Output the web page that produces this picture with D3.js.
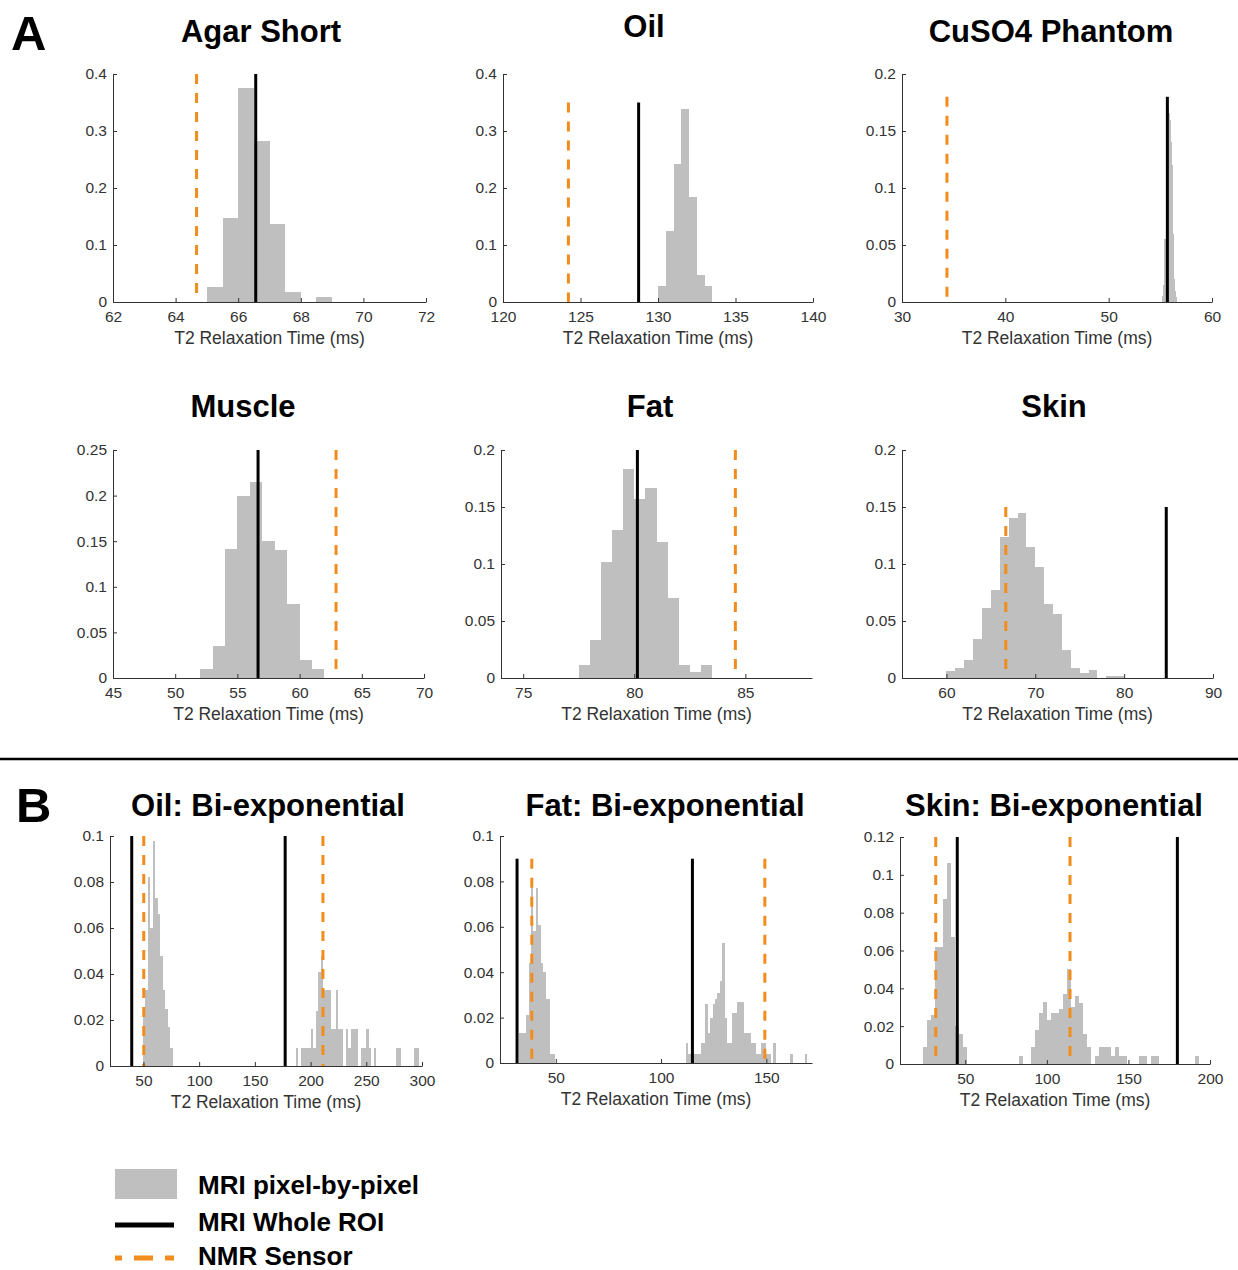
<!DOCTYPE html>
<html>
<head>
<meta charset="utf-8">
<script src="https://cdn.jsdelivr.net/npm/d3@7"></script>
<style>
  body { margin: 0; background: #fff; }
  svg { font-family: "Liberation Sans", Arial, Helvetica, sans-serif; }
  .axis text { font-size: 15.5px; font-family: "Liberation Sans", Arial, sans-serif; fill: #333; }
  .axis path, .axis line { stroke: #333; }
  .axisTitle { font-size: 17.5px; fill: #333; }
  .panelTitle { font-size: 31px; font-weight: bold; fill: #000; }
</style>
</head>
<body>
<div id="chart"></div>
<script>
// panel titles
var titles = ["Agar Short", "Oil", "CuSO4 Phantom", "Muscle", "Fat", "Skin",
  "Oil: Bi-exponential", "Fat: Bi-exponential", "Skin: Bi-exponential"];

// axis ranges and ticks
var xDomains = [[62, 72], [120, 140], [30, 60], [45, 70], [74, 88], [55, 90], [20, 300], [23.5, 171.7], [10, 200]];
var xTicks = [[62, 64, 66, 68, 70, 72], [120, 125, 130, 135, 140], [30, 40, 50, 60], [45, 50, 55, 60, 65, 70],
  [75, 80, 85], [60, 70, 80, 90], [50, 100, 150, 200, 250, 300], [50, 100, 150], [50, 100, 150, 200]];
var yMaxes = [0.4, 0.4, 0.2, 0.25, 0.2, 0.2, 0.1, 0.1, 0.12];
var yTicks = [[0, 0.1, 0.2, 0.3, 0.4], [0, 0.1, 0.2, 0.3, 0.4], [0, 0.05, 0.1, 0.15, 0.2],
  [0, 0.05, 0.1, 0.15, 0.2, 0.25], [0, 0.05, 0.1, 0.15, 0.2], [0, 0.05, 0.1, 0.15, 0.2],
  [0, 0.02, 0.04, 0.06, 0.08, 0.1], [0, 0.02, 0.04, 0.06, 0.08, 0.1], [0, 0.02, 0.04, 0.06, 0.08, 0.1, 0.12]];

// MRI pixel-by-pixel histograms (fraction of pixels per bin)
var histAgar = [0.027, 0.147, 0.375, 0.283, 0.137, 0.018, 0, 0.008];
var histOil = [0.028, 0.125, 0.242, 0.339, 0.184, 0.047, 0.028];
var histCuSO4 = [0.005, 0.015, 0.055, 0.1, 0.15, 0.17, 0.166, 0.16, 0.14, 0.12, 0.06, 0.02, 0.01, 0.004];
var histMuscle = [0.01, 0.035, 0.141, 0.2, 0.215, 0.15, 0.14, 0.081, 0.02, 0.01];
var histFat = [0.011, 0.033, 0.102, 0.13, 0.183, 0.157, 0.167, 0.119, 0.07, 0.011, 0.005, 0.011];
var histSkin = [0.0064, 0.0085, 0.016, 0.034, 0.061, 0.077, 0.124, 0.14, 0.145, 0.115, 0.097, 0.065,
  0.056, 0.0245, 0.0087, 0.0044, 0.007, 0, 0.0017, 0.0017];
var histOilBiShort = [0.024, 0.033, 0.082, 0.06, 0.098, 0.073, 0.066, 0.048, 0.033, 0.025, 0.017, 0.008];
var histOilBiLong = [0.008, 0, 0.008, 0.008, 0.008, 0.008, 0.016, 0.008, 0.024, 0.041, 0.048, 0.033,
  0.033, 0.033, 0.016, 0.016, 0.033, 0.016, 0.016, 0, 0.016, 0.008, 0.016, 0.016, 0.016, 0, 0.008,
  0.008, 0.016, 0.008, 0, 0.008, 0, 0, 0, 0, 0, 0, 0, 0, 0.008, 0.008, 0, 0, 0, 0, 0, 0.008, 0.008];
var histFatBiShort = [0.013, 0.013, 0.013, 0.021, 0.044, 0.08, 0.058, 0.077, 0.061, 0.044, 0.04, 0.028, 0.028, 0.004, 0.004];
var histFatBiLong = [0.009, 0.004, 0.004, 0.004, 0.004, 0.004, 0.009, 0.009, 0.026, 0.013, 0.02, 0.026,
  0.028, 0.031, 0.036, 0.053, 0.02, 0.009, 0.009, 0.022, 0.022, 0.027, 0.027, 0.027, 0.013, 0.013, 0.013,
  0.009, 0.009, 0.004, 0.004, 0.009, 0.009, 0.004, 0.004, 0, 0.009, 0, 0, 0, 0, 0, 0, 0.004, 0, 0, 0, 0, 0, 0.004];
var histSkinBiShort = [0.009, 0.023, 0.026, 0.062, 0.062, 0.087, 0.106, 0.067, 0.02, 0.016, 0.009];
var histSkinBiLong = [0.004, 0, 0, 0.009, 0.018, 0.027, 0.033, 0.023, 0.027, 0.027, 0.029, 0.037, 0.05,
  0.03, 0.036, 0.032, 0.016, 0.009, 0, 0.004, 0.009, 0.009, 0.009, 0.004, 0.009, 0.004, 0.004, 0, 0, 0,
  0.004, 0.004, 0, 0.004, 0.004, 0, 0, 0, 0, 0, 0, 0, 0, 0, 0.004];

var histograms = [[histAgar], [histOil], [histCuSO4], [histMuscle], [histFat], [histSkin],
  [histOilBiShort, histOilBiLong], [histFatBiShort, histFatBiLong], [histSkinBiShort, histSkinBiLong]];
var binStarts = [[65], [130], [55.2], [52], [77.5], [60], [49.5, 186.75], [32.5, 111.85], [24.1, 83.1]];
var binWidths = [0.5, 0.5, 0.1, 1, 0.5, 1, 2.25, 1.15, 2.45];

// MRI whole ROI T2 (ms) and NMR sensor T2 (ms), with line heights
var roiT2 = [[66.56], [128.75], [55.68], [56.66], [80.14], [84.74], [39.5, 177.2], [31.6, 114.9], [45.1, 180]];
var roiTop = [0.4, 0.35, 0.18, 0.25, 0.2, 0.15, 0.1, 0.09, 0.12];
var nmrT2 = [[64.67], [124.22], [34.35], [62.93], [84.55], [66.68], [50.3, 211.1], [38.6, 149.3], [31.9, 114.2]];
var nmrTop = [0.4, 0.35, 0.18, 0.25, 0.2, 0.15, 0.1, 0.09, 0.12];

var legendLabels = ["MRI pixel-by-pixel", "MRI Whole ROI", "NMR Sensor"];

// layout of each plot area
var boxes = [
  {x: 113, y: 74, w: 313, h: 228, tx: 261, ty: 42},
  {x: 503, y: 74, w: 310, h: 228, tx: 644, ty: 37},
  {x: 902, y: 74, w: 310, h: 228, tx: 1051, ty: 42},
  {x: 113, y: 450, w: 311, h: 228, tx: 243, ty: 417},
  {x: 501, y: 450, w: 311, h: 228, tx: 650, ty: 417},
  {x: 902, y: 450, w: 311, h: 228, tx: 1054, ty: 417},
  {x: 110, y: 836, w: 312, h: 230, tx: 268, ty: 816},
  {x: 500, y: 836, w: 312, h: 227, tx: 665, ty: 816},
  {x: 900, y: 837, w: 310, h: 227, tx: 1054, ty: 816}
];

var grey = "#bfbfbf";
var orange = "#f28c1c";

var svg = d3.select("#chart").append("svg")
  .attr("width", 1238)
  .attr("height", 1270);

function drawPanel(i) {
  var b = boxes[i];
  var x = d3.scaleLinear().domain(xDomains[i]).range([b.x, b.x + b.w]);
  var y = d3.scaleLinear().domain([0, yMaxes[i]]).range([b.y + b.h, b.y]);
  var g = svg.append("g");

  // histogram bars
  var bars = [];
  histograms[i].forEach(function(hs, k) {
    hs.forEach(function(v, j) {
      var x0 = binStarts[i][k] + j * binWidths[i];
      if (v > 0) bars.push({x0: x0, x1: x0 + binWidths[i], v: v});
    });
  });
  g.append("g").selectAll("rect")
    .data(bars)
    .enter().append("rect")
    .attr("x", d => x(d.x0))
    .attr("width", d => x(d.x1) - x(d.x0))
    .attr("y", d => y(d.v))
    .attr("height", d => y(0) - y(d.v))
    .attr("fill", grey)
    .attr("shape-rendering", "crispEdges");

  // whole ROI lines
  g.append("g").selectAll("line")
    .data(roiT2[i])
    .enter().append("line")
    .attr("x1", d => x(d)).attr("x2", d => x(d))
    .attr("y1", y(0)).attr("y2", y(roiTop[i]))
    .attr("stroke", "#000")
    .attr("stroke-width", 3);

  // NMR sensor lines
  g.append("g").selectAll("line")
    .data(nmrT2[i])
    .enter().append("line")
    .attr("x1", d => x(d)).attr("x2", d => x(d))
    .attr("y1", y(nmrTop[i])).attr("y2", y(0))
    .attr("stroke", orange)
    .attr("stroke-width", 3)
    .attr("stroke-dasharray", "10,9");

  // axes
  g.append("g")
    .attr("class", "axis")
    .attr("transform", `translate(0,${b.y + b.h})`)
    .call(d3.axisBottom(x).tickValues(xTicks[i]).tickFormat(d => String(d))
      .tickSizeInner(-4).tickSizeOuter(0).tickPadding(9));

  g.append("g")
    .attr("class", "axis")
    .attr("transform", `translate(${b.x},0)`)
    .call(d3.axisLeft(y).tickValues(yTicks[i]).tickFormat(d => String(d))
      .tickSizeInner(-4).tickSizeOuter(0).tickPadding(6));

  // axis title
  g.append("text")
    .attr("class", "axisTitle")
    .attr("x", b.x + b.w / 2)
    .attr("y", b.y + b.h + 42)
    .attr("text-anchor", "middle")
    .text("T2 Relaxation Time (ms)");

  // panel title
  g.append("text")
    .attr("class", "panelTitle")
    .attr("x", b.tx)
    .attr("y", b.ty)
    .attr("text-anchor", "middle")
    .text(titles[i]);
}

for (var i = 0; i < titles.length; i++) drawPanel(i);

// section letters and divider
svg.append("text").attr("x", 11).attr("y", 50)
  .attr("font-size", 49).attr("font-weight", "bold").text("A");
svg.append("text").attr("x", 16).attr("y", 822)
  .attr("font-size", 49).attr("font-weight", "bold").text("B");
svg.append("line")
  .attr("x1", 0).attr("x2", 1238)
  .attr("y1", 759).attr("y2", 759)
  .attr("stroke", "#000").attr("stroke-width", 2.5);

// legend
var legend = svg.append("g");
legend.append("rect")
  .attr("x", 115).attr("y", 1169)
  .attr("width", 62).attr("height", 30)
  .attr("fill", grey);
legend.append("line")
  .attr("x1", 115).attr("x2", 174)
  .attr("y1", 1225).attr("y2", 1225)
  .attr("stroke", "#000").attr("stroke-width", 5);
legend.append("line")
  .attr("x1", 115).attr("x2", 174)
  .attr("y1", 1258).attr("y2", 1258)
  .attr("stroke", orange).attr("stroke-width", 5)
  .attr("stroke-dasharray", "19,12").attr("stroke-dashoffset", 12);
legend.selectAll("text")
  .data(legendLabels)
  .enter().append("text")
  .attr("x", 198)
  .attr("y", (d, k) => [1194, 1231, 1265][k])
  .attr("font-size", 26)
  .attr("font-weight", "bold")
  .text(d => d);
</script>
</body>
</html>
